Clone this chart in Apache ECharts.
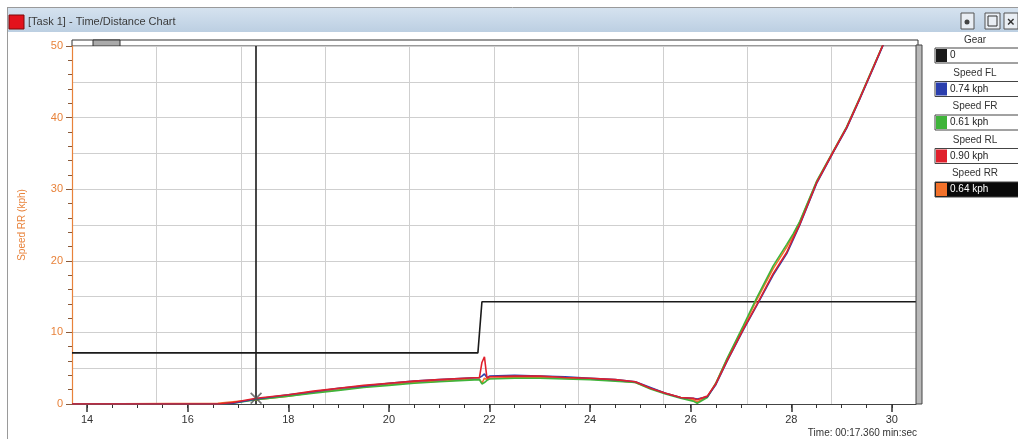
<!DOCTYPE html>
<html><head><meta charset="utf-8">
<script src="https://cdn.jsdelivr.net/npm/echarts@6/dist/echarts.min.js"></script>
<style>html,body{margin:0;padding:0;background:#ffffff;} #c{width:1018px;height:439px;}</style>
</head><body><div id="c"></div>
<script>
// ---- data ----
const time = [13.7, 16.6, 16.9, 17.36, 18.0, 18.5, 19.0, 19.5, 20.0, 20.5, 21.0, 21.5, 21.8, 21.85, 21.9, 21.95, 22.0, 22.5, 23.0, 23.5, 24.0, 24.5, 24.9, 25.2, 25.5, 25.8, 26.05, 26.13, 26.33, 26.5, 26.72, 27.05, 27.31, 27.64, 27.91, 28.04, 28.17, 28.51, 28.84, 29.10, 29.37, 29.63, 29.85];
const speedFL = [0, 0, 0.1, 0.7, 1.3, 1.7, 2.2, 2.5, 2.9, 3.2, 3.4, 3.6, 3.7, 3.9, 4.2, 3.7, 3.9, 4.0, 3.9, 3.8, 3.6, 3.4, 3.1, 2.3, 1.5, 0.9, 0.8, 0.7, 1.0, 2.7, 5.9, 10.4, 13.7, 18.0, 21.0, 23.0, 25.0, 30.9, 35.2, 38.5, 42.7, 46.9, 50.5];
const speedFR = [0, 0, 0.1, 0.6, 1.1, 1.5, 1.9, 2.3, 2.6, 2.9, 3.1, 3.3, 3.4, 2.8, 3.0, 3.3, 3.5, 3.6, 3.6, 3.5, 3.4, 3.2, 3.0, 2.1, 1.4, 0.8, 0.4, 0.1, 0.9, 2.9, 6.3, 11.0, 14.8, 19.3, 22.3, 23.8, 25.5, 31.2, 35.4, 38.7, 42.9, 47.1, 50.6];
const speedRL = [0, 0, 0.2, 0.8, 1.3, 1.8, 2.2, 2.6, 2.9, 3.2, 3.4, 3.6, 3.7, 5.8, 6.6, 3.6, 3.8, 3.9, 3.9, 3.7, 3.6, 3.4, 3.1, 2.2, 1.5, 0.9, 0.8, 0.6, 1.1, 2.8, 6.0, 10.5, 13.8, 18.2, 21.2, 23.2, 25.1, 31.0, 35.3, 38.6, 42.8, 47.0, 50.6];
const speedRR = [0, 0.1, 0.3, 0.6, 1.1, 1.6, 2.0, 2.4, 2.7, 3.0, 3.2, 3.4, 3.5, 2.9, 3.6, 3.4, 3.6, 3.7, 3.7, 3.6, 3.5, 3.3, 3.0, 2.2, 1.5, 0.9, 0.6, 0.3, 1.0, 2.9, 6.2, 10.8, 14.5, 18.9, 21.9, 23.6, 25.4, 31.1, 35.3, 38.6, 42.8, 47.0, 50.6];
const gearTime = [13.7, 21.77, 21.85, 30.48];
const gearValue = [0, 0, 1, 1];
const cursorTime = 17.36;
const cursorSpeed = 0.8;
const xLabelValues = [14, 16, 18, 20, 22, 24, 26, 28, 30];
const xMinorTickValues = [14, 14.5, 15, 15.5, 16, 16.5, 17, 17.5, 18, 18.5, 19, 19.5, 20, 20.5, 21, 21.5, 22, 22.5, 23, 23.5, 24, 24.5, 25, 25.5, 26, 26.5, 27, 27.5, 28, 28.5, 29, 29.5, 30, 30.5];
const legendNames = ['Gear', 'Speed FL', 'Speed FR', 'Speed RL', 'Speed RR'];
const legendValues = ['0', '0.74 kph', '0.61 kph', '0.90 kph', '0.64 kph'];
const yAxisName = 'Speed RR (kph)';
const titleText = '[Task 1] - Time/Distance Chart';

// ---- styles ----
const FONT = 'Liberation Sans, Arial, sans-serif';
const ORANGE = '#e8823a';
const colors = { gear: '#1a1a1a', fl: '#2b3fae', fr: '#3fb43a', rl: '#e0202c', rr: '#f2712a' };
const legendColors = [colors.gear, colors.fl, colors.fr, colors.rl, colors.rr];

const zip = (xs, ys) => xs.map((x, i) => [x, ys[i]]);

const chart = echarts.init(document.getElementById('c'), null, { renderer: 'canvas' });

function speedSeries(name, values, color, extra) {
  return Object.assign({
    name, type: 'line', xAxisIndex: 0, yAxisIndex: 0,
    data: zip(time, values), showSymbol: false, symbol: 'none',
    lineStyle: { color, width: 1.6 }, itemStyle: { color },
    clip: true, z: 5
  }, extra || {});
}

const graphics = [];
// window chrome
graphics.push({ type: 'rect', z: -10, shape: { x: 7, y: 8, width: 1011, height: 24 },
  style: { fill: new echarts.graphic.LinearGradient(0, 0, 0, 1, [{ offset: 0, color: '#d5e2ef' }, { offset: 1, color: '#bccfe2' }]) } });
graphics.push({ type: 'line', shape: { x1: 7, y1: 7.5, x2: 1018, y2: 7.5 }, style: { stroke: '#9a9a9a', lineWidth: 1 } });
graphics.push({ type: 'line', shape: { x1: 7.5, y1: 7, x2: 7.5, y2: 439 }, style: { stroke: '#9a9a9a', lineWidth: 1 } });
graphics.push({ type: 'rect', shape: { x: 9, y: 15, width: 15, height: 14 }, style: { fill: '#e3121c', stroke: '#7a0a0a', lineWidth: 1 } });
graphics.push({ type: 'text', x: 28, y: 22, style: { text: titleText, font: '11px ' + FONT, fill: '#3a3a3a', verticalAlign: 'middle' } });
// title bar buttons
[[961, 13, 13, 16], [985, 13, 15, 16], [1004, 13, 14, 16]].forEach((b, i) => {
  graphics.push({ type: 'rect', shape: { x: b[0], y: b[1], width: b[2], height: b[3] }, style: { fill: '#e9eef4', stroke: '#555', lineWidth: 1 } });
});
graphics.push({ type: 'circle', shape: { cx: 967, cy: 22, r: 2.5 }, style: { fill: '#444' } });
graphics.push({ type: 'rect', shape: { x: 988, y: 16, width: 9, height: 10 }, style: { fill: 'none', stroke: '#333', lineWidth: 1 } });
graphics.push({ type: 'text', x: 1007, y: 22, style: { text: '×', font: 'bold 13px ' + FONT, fill: '#333', verticalAlign: 'middle' } });
// top scroll bar
graphics.push({ type: 'rect', shape: { x: 72, y: 40, width: 846, height: 6 }, style: { fill: '#ffffff', stroke: '#333', lineWidth: 1 } });
graphics.push({ type: 'rect', shape: { x: 93, y: 40, width: 27, height: 6 }, style: { fill: '#aaaaaa', stroke: '#333', lineWidth: 1 } });
// right bar
graphics.push({ type: 'rect', z: 20, shape: { x: 916, y: 45, width: 6, height: 359 }, style: { fill: '#b9b9b9', stroke: '#444', lineWidth: 1 } });
// legend panel
legendNames.forEach((n, i) => {
  const ly = 40 + 33.3 * i;
  const by = 48 + 33.5 * i;
  graphics.push({ type: 'text', x: 975, y: ly, style: { text: n, font: '10px ' + FONT, fill: '#333', align: 'center', verticalAlign: 'middle' } });
  const last = i === legendNames.length - 1;
  graphics.push({ type: 'rect', shape: { x: 935, y: by, width: 90, height: 15 }, style: { fill: last ? '#0a0a0a' : '#ffffff', stroke: '#444', lineWidth: 1 } });
  graphics.push({ type: 'rect', shape: { x: 936, y: by + 1, width: 11, height: 13 }, style: { fill: legendColors[i] } });
  graphics.push({ type: 'text', x: 950, y: by + 7.5, style: { text: legendValues[i], font: '10px ' + FONT, fill: last ? '#ffffff' : '#222', verticalAlign: 'middle' } });
});
// cursor time readout
const tStr = '00:' + cursorTime.toFixed(3).padStart(6, '0');
graphics.push({ type: 'text', x: 917, y: 433, style: { text: 'Time: ' + tStr + ' min:sec', font: '10px ' + FONT, fill: '#333', align: 'right', verticalAlign: 'middle' } });

const option = {
  animation: false,
  backgroundColor: '#ffffff',
  grid: { left: 72, right: 102, top: 46, bottom: 35, containLabel: false },
  xAxis: [
    { type: 'value', min: 13.7, max: 30.48, position: 'bottom',
      axisLine: { show: true, onZero: false, lineStyle: { color: '#444', width: 1 } },
      axisTick: { show: true, customValues: xLabelValues, length: 8, lineStyle: { color: '#333', width: 1.5 } },
      axisLabel: { customValues: xLabelValues, color: '#333', fontSize: 11, fontFamily: FONT, margin: 10 },
      splitLine: { show: false } },
    { type: 'value', min: 13.7, max: 30.48, position: 'bottom',
      axisLine: { show: false },
      axisTick: { show: true, customValues: xMinorTickValues, length: 4, lineStyle: { color: '#333', width: 1 } },
      axisLabel: { show: false }, splitLine: { show: false } },
    { type: 'value', min: 0, max: 10, interval: 1, position: 'top',
      axisLine: { show: false }, axisTick: { show: false }, axisLabel: { show: false },
      splitLine: { show: true, lineStyle: { color: '#cfcfcf', width: 1 } } }
  ],
  yAxis: [
    { type: 'value', min: 0, max: 50, interval: 10, position: 'left',
      name: yAxisName, nameLocation: 'middle', nameGap: 45,
      nameTextStyle: { color: ORANGE, fontSize: 10, fontFamily: FONT },
      axisLine: { show: true, onZero: false, lineStyle: { color: ORANGE, width: 1.2 } },
      axisTick: { show: true, inside: false, length: 6, lineStyle: { color: '#8a5a3a', width: 1 } },
      minorTick: { show: true, splitNumber: 5, length: 4, lineStyle: { color: '#8a5a3a', width: 1 } },
      axisLabel: { color: ORANGE, fontSize: 11, fontFamily: FONT, margin: 9 },
      splitLine: { show: false } },
    { type: 'value', min: 0, max: 10, interval: 1, position: 'right',
      axisLine: { show: false }, axisTick: { show: false }, axisLabel: { show: false },
      splitLine: { show: true, lineStyle: { color: '#cfcfcf', width: 1 } } },
    { type: 'value', min: -1, max: 6, show: false }
  ],
  series: [
    { name: 'Gear', type: 'line', xAxisIndex: 0, yAxisIndex: 2, data: zip(gearTime, gearValue),
      showSymbol: false, symbol: 'none', lineStyle: { color: colors.gear, width: 1.6 }, z: 4 },
    speedSeries('Speed RR', speedRR, colors.rr),
    speedSeries('Speed FR', speedFR, colors.fr),
    speedSeries('Speed FL', speedFL, colors.fl),
    speedSeries('Speed RL', speedRL, colors.rl, {
      markLine: { silent: true, symbol: ['none', 'none'], label: { show: false },
        lineStyle: { color: '#1a1a1a', width: 1.6, type: 'solid' },
        data: [{ xAxis: cursorTime }] }
    }),
    { name: 'cursor', type: 'scatter', xAxisIndex: 0, yAxisIndex: 0,
      data: [[cursorTime, cursorSpeed]],
      symbol: 'path://M0,1L1,0L10,9L9,10Z M9,0L10,1L1,10L0,9Z', symbolSize: 12,
      itemStyle: { color: '#555' }, z: 8 }
  ],
  graphic: graphics
};
chart.setOption(option);
</script></body></html>
